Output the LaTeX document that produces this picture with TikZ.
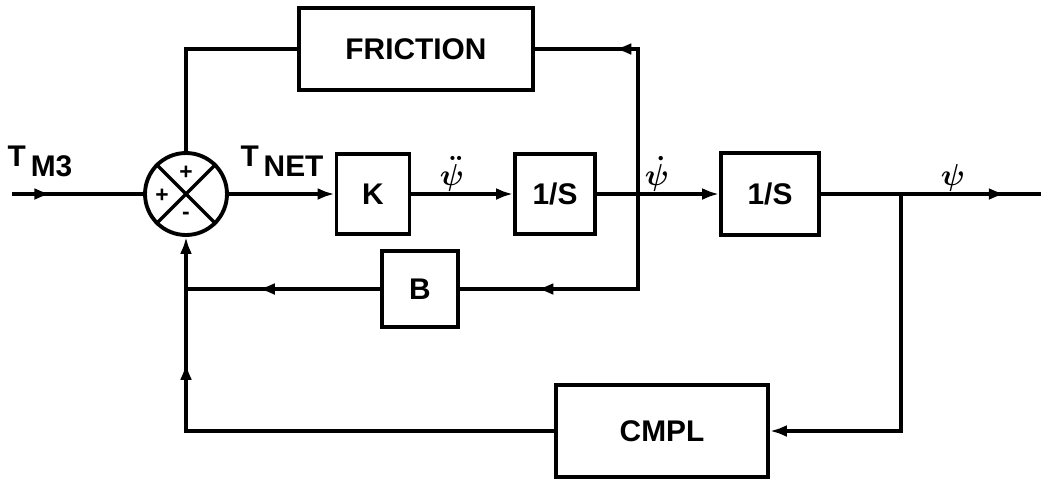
\documentclass[tikz,border=0pt]{standalone}
\usepackage{fontspec}
\setmainfont{Liberation Sans}
\usetikzlibrary{arrows.meta, positioning, decorations.markings}

\begin{document}
\begin{tikzpicture}[x=0.02cm, y=-0.02cm, line width=2pt,
  blk/.style={draw, line width=2.2pt, inner sep=0pt,
              font=\bfseries\fontsize{17}{20}\selectfont},
  lbl/.style={inner sep=0pt, font=\bfseries\fontsize{17}{20}\selectfont},
  sig/.style={inner sep=0pt, anchor=south, font=\boldmath\fontsize{17}{19}\selectfont},
  sgn/.style={inner sep=0pt, font=\bfseries\fontsize{13}{15}\selectfont},
  arr/.style={-{Latex[length=3.4mm,width=2.4mm]}},
  midarr/.style={postaction={decorate}, decoration={markings,
              mark=at position #1 with {\arrow{Latex[length=3.4mm,width=2.4mm]}}}}
]
\useasboundingbox (0,0) rectangle (1041,481);

% summing junction
\node[draw, circle, minimum size=1.64cm, inner sep=0pt, line width=2.2pt] (sum) at (186,194) {};
\draw (sum.north west) -- (sum.south east) (sum.north east) -- (sum.south west);
\node[sgn] (ptop)  at (186,173) {+};
\node[sgn] (pleft) at (162,196) {+};
\node[sgn] (mbot)  at (186,216) {-};

% blocks
\node[blk, minimum width=1.46cm, minimum height=1.6cm]  (gain) at (373,194) {K};
\node[blk, minimum width=1.6cm,  minimum height=1.6cm]  (intA) at (555,194) {1/S};
\node[blk, minimum width=1.96cm, minimum height=1.64cm] (intB) at (770,194) {1/S};
\node[blk, minimum width=4.68cm, minimum height=1.64cm] (fric) at (416,49)  {FRICTION};
\node[blk, minimum width=1.52cm, minimum height=1.52cm] (damp) at (420,289) {B};
\node[blk, minimum width=4.24cm, minimum height=1.84cm] (cmpl) at (662,431) {CMPL};

\coordinate (in)     at (12,194);
\coordinate (out)    at (1041,194);
\coordinate (tap)    at (638,194);
\coordinate (psitap) at (901,194);

% forward path
\draw[midarr=0.3] (in) -- (sum.west);
\draw[arr] (sum.east) -- (gain.west);
\draw[arr] (gain.east) -- (intA.west);
\draw[arr] (intA.east) -- (intB.west);
\draw[midarr=0.84] (intB.east) -- (out);

% feedback loops
\draw[midarr=0.68] (tap) -- (tap |- fric.east) -- (fric.east);
\draw (fric.west) -| (sum.north);
\draw[midarr=0.72] (tap) -- (tap |- damp.east) -- (damp.east);
\draw[midarr=0.63] (damp.west) -- (sum.south |- damp.west);
\draw[arr] (psitap) |- (cmpl.east);
\draw[arr, midarr=0.776] (cmpl.west) -| (sum.south);

% signal labels
\node[lbl] (tm3)  at (40,161)  {T\,\raisebox{-0.2cm}{M3}};
\node[lbl] (tnet) at (282,161) {T\,\raisebox{-0.2cm}{NET}};
\node[sig] (acc)  at (452,193) {$\ddot{\psi}$};
\node[sig] (rate) at (657,193) {$\dot{\psi}$};
\node[sig] (ang)  at (953,193) {$\psi$};
\end{tikzpicture}
\end{document}
